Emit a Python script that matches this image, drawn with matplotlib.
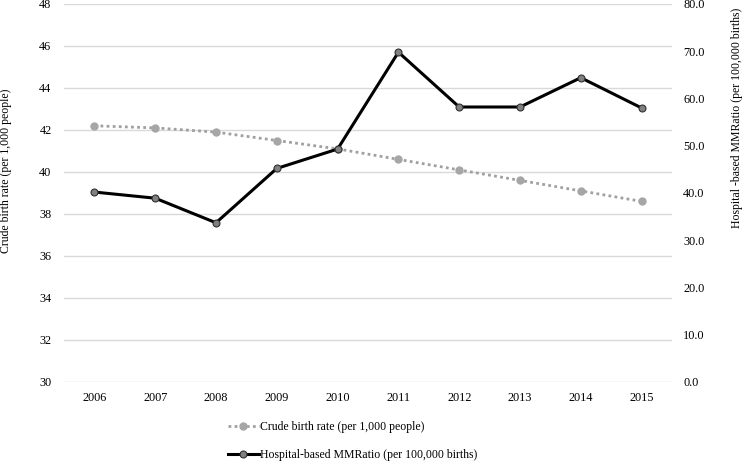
import numpy as np
import matplotlib
matplotlib.use('Agg')
import matplotlib.pyplot as plt
from matplotlib.lines import Line2D


years = ['2006', '2007', '2008', '2009', '2010', '2011', '2012', '2013', '2014', '2015']
crude_birth_rate = [42.2, 42.1, 41.9, 41.5, 41.1, 40.6, 40.1, 39.6, 39.1, 38.6]
mmr = [40.2, 38.9, 33.7, 45.2, 49.3, 69.8, 58.2, 58.2, 64.4, 58.0]

left_ticks = [30, 32, 34, 36, 38, 40, 42, 44, 46, 48]
right_ticks = [0, 10, 20, 30, 40, 50, 60, 70, 80]

plt.rcParams['font.family'] = ['Liberation Serif', 'DejaVu Serif']
FS = 8.5
TICK_FS = 8.8

W, H = 742, 463
fig = plt.figure(figsize=(W / 100, H / 100), dpi=100)
# plot area: x 64..672, y 4..382 (pixels)
ax = fig.add_axes([64 / W, 1 - 382 / H, (672 - 64) / W, (382 - 4) / H])
ax2 = ax.twinx()

x = np.arange(len(years))

ax.set_ylim(30, 48)
ax.set_yticks(left_ticks)
ax.set_yticklabels([str(t) for t in left_ticks], fontsize=TICK_FS)
ax.set_xlim(-0.5, len(years) - 0.5)
ax.set_xticks(x)
ax.set_xticklabels(years, fontsize=TICK_FS)
ax.grid(axis='y', color='#d9d9d9', linewidth=1.0)
ax.set_axisbelow(True)
ax.tick_params(axis='y', length=0, pad=9)
ax.tick_params(axis='x', length=0, pad=7)

ax2.set_ylim(0, 80)
ax2.set_yticks(right_ticks)
ax2.set_yticklabels(['%.1f' % t for t in right_ticks], fontsize=TICK_FS)
ax2.tick_params(length=0, pad=8)

for a in (ax, ax2):
    for s in a.spines.values():
        s.set_visible(False)

ax.plot(x, crude_birth_rate, color='#a0a0a0', linestyle=(0, (1, 1.2)), linewidth=2.0,
        marker='o', markersize=5, markerfacecolor='#a6a6a6', markeredgecolor='#a6a6a6', zorder=3)
ax2.plot(x, mmr, color='black', linewidth=2.2, marker='o', markersize=5,
         markerfacecolor='#808080', markeredgecolor='#303030', markeredgewidth=0.8, zorder=4)

fig.text(6 / W, 1 - 171 / H, 'Crude birth rate (per 1,000 people)', rotation=90,
         ha='center', va='center', fontsize=FS)
fig.text(737 / W, 1 - 118 / H, 'Hospital -based MMRatio (per 100,000 births)', rotation=90,
         ha='center', va='center', fontsize=FS)

handles = [
    Line2D([], [], color='#a0a0a0', linestyle=(0, (1, 1.2)), linewidth=2.0, marker='o',
           markersize=5, markerfacecolor='#a6a6a6', markeredgecolor='#a6a6a6'),
    Line2D([], [], color='black', linewidth=2.2, marker='o', markersize=5,
           markerfacecolor='#808080', markeredgecolor='#303030', markeredgewidth=0.8),
]
labels = ['Crude birth rate (per 1,000 people)', 'Hospital-based MMRatio (per 100,000 births)']
fig.legend(handles, labels, loc='upper left', bbox_to_anchor=(222 / W, 1 - 415 / H),
           frameon=False, fontsize=FS, labelspacing=1.4, handlelength=2.6,
           handletextpad=0.1, borderpad=0)

fig.savefig('out.png', dpi=100)
